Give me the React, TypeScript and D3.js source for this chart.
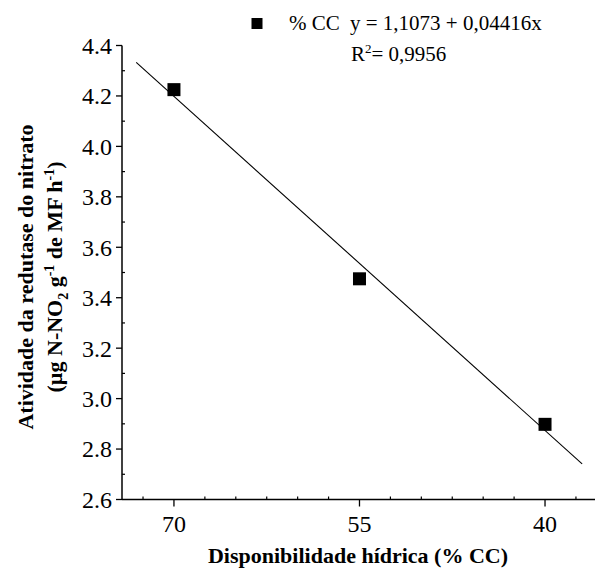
import React from 'react';
import * as d3 from 'd3';

// dados
const waterLevels = [70, 55, 40];
const nitrateActivity = [4.225, 3.475, 2.898];
const xTicks = [70, 55, 40];
const yTicks = [2.6, 2.8, 3.0, 3.2, 3.4, 3.6, 3.8, 4.0, 4.2, 4.4];
const fitIntercept = 1.1073;
const fitSlope = 0.04416;
const fitRange = [73.05, 37.0];

const W = 595;
const H = 572;
const font = '"Liberation Serif", "Times New Roman", serif';

export default function App() {
  const x = d3.scaleLinear().domain([74.2, 36]).range([122, 594.5]);
  const y = d3.scaleLinear().domain([2.6, 4.4]).range([499.5, 45.5]);

  const xMinor = d3.range(72.5, 36, -2.5).filter(v => !xTicks.includes(v));
  const yMinor = d3.range(2.7, 4.4, 0.2).map(v => +v.toFixed(1));

  const fitLine = d3
    .line<number>()
    .x(d => x(d))
    .y(d => y(fitIntercept + fitSlope * d));

  const x0 = x.range()[0];
  const y0 = y.range()[0];

  return (
    <svg
      width={W}
      height={H}
      style={{ position: 'absolute', left: 0, top: 0, background: '#fff' }}
      fontFamily={font}
    >
      {/* eixo Y */}
      <line x1={x0} x2={x0} y1={y(4.4)} y2={y0 + 0.5} stroke="#000" strokeWidth={1.5} />
      {yTicks.map(t => (
        <g key={t}>
          <line x1={x0 - 6} x2={x0} y1={y(t)} y2={y(t)} stroke="#000" strokeWidth={1.3} />
          <text x={x0 - 10} y={y(t)} dy="0.35em" textAnchor="end" fontSize={24}>
            {t.toFixed(1)}
          </text>
        </g>
      ))}
      {yMinor.map(t => (
        <line key={t} x1={x0} x2={x0 + 3} y1={y(t)} y2={y(t)} stroke="#000" strokeWidth={1.2} />
      ))}

      {/* eixo X */}
      <line x1={x0} x2={W} y1={y0} y2={y0} stroke="#000" strokeWidth={1.5} />
      {xTicks.map(t => (
        <g key={t}>
          <line x1={x(t)} x2={x(t)} y1={y0} y2={y0 + 7} stroke="#000" strokeWidth={1.3} />
          <text x={x(t)} y={y0 + 32} textAnchor="middle" fontSize={24}>
            {t}
          </text>
        </g>
      ))}
      {xMinor.map(t => (
        <line key={t} x1={x(t)} x2={x(t)} y1={y0 - 3} y2={y0} stroke="#000" strokeWidth={1.2} />
      ))}

      {/* reta ajustada */}
      <path d={fitLine(fitRange) || ''} fill="none" stroke="#000" strokeWidth={1.1} />

      {/* pontos */}
      {waterLevels.map((v, i) => (
        <rect
          key={v}
          x={x(v) - 6.5}
          y={y(nitrateActivity[i]) - 6.5}
          width={13}
          height={13}
          fill="#000"
        />
      ))}

      {/* legenda */}
      <rect x={251.5} y={18} width={11} height={11} fill="#000" />
      <text x={289} y={29.5} fontSize={21}>
        % CC
      </text>
      <text x={350} y={29.5} fontSize={21}>
        y = 1,1073 + 0,04416x
      </text>
      <text x={351} y={61} fontSize={21}>
        R<tspan dy={-8} fontSize={13}>2</tspan>
        <tspan dy={8}>= 0,9956</tspan>
      </text>

      {/* títulos */}
      <text x={358} y={563} textAnchor="middle" fontSize={22} fontWeight="bold">
        Disponibilidade hídrica (% CC)
      </text>
      <g transform="translate(33,277) rotate(-90)">
        <text x={0} y={0} textAnchor="middle" fontSize={22} fontWeight="bold">
          Atividade da redutase do nitrato
        </text>
        <text x={0} y={29} textAnchor="middle" fontSize={22} fontWeight="bold">
          (µg N-NO<tspan dy={6} fontSize={14}>2</tspan>
          <tspan dy={-6}> g</tspan>
          <tspan dy={-8} fontSize={14}>-1</tspan>
          <tspan dy={8}> de MF h</tspan>
          <tspan dy={-8} fontSize={14}>-1</tspan>
          <tspan dy={8}>)</tspan>
        </text>
      </g>
    </svg>
  );
}
